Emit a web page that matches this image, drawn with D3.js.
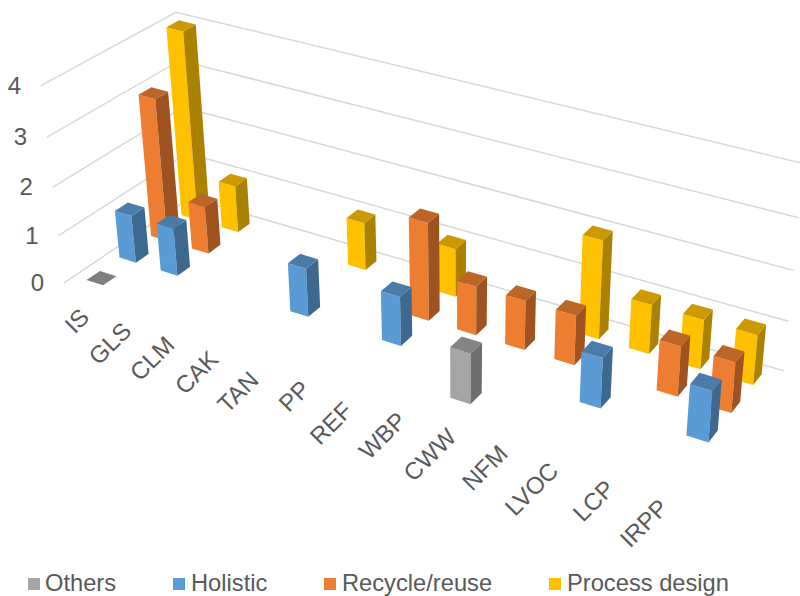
<!DOCTYPE html>
<html><head><meta charset="utf-8"><script src="https://cdn.jsdelivr.net/npm/d3@7"></script>
<style>html,body{margin:0;background:#fff}</style></head><body><svg id="c" width="800" height="596"></svg>
<script>
const categories=["IS","GLS","CLM","CAK","TAN","PP","REF","WBP","CWW","NFM","LVOC","LCP","IRPP"];
const seriesNames=["Others","Holistic","Recycle/reuse","Process design"];
const others=[0,null,null,null,null,null,null,null,1,null,null,null,null];
const holistic=[1,1,null,null,1,null,1,null,null,null,1,null,1];
const recycle=[3,1,null,null,null,null,2,1,1,1,null,1,1];
const process=[4,1,null,null,1,null,1,null,null,2,1,1,1];
const valueTicks=[0,1,2,3,4];

// Perspective camera: maps (category, series depth, value) to screen pixels.
const camera=[40.3047,35.5985,-6.3,64.0215, 10.0721,-17.0795,-50.4934,282.897, -0.0117593,0.0211970,-0.0137152];
const project=(u,s,z)=>{
  const c=camera,w=c[8]*u+c[9]*s+c[10]*z+1;
  return [(c[0]*u+c[1]*s+c[2]*z+c[3])/w,(c[4]*u+c[5]*s+c[6]*z+c[7])/w];
};

const svg=d3.select("#c");
const uScale=d3.scalePoint().domain(categories).range([0,13]).padding(.5);
const sScale=d3.scalePoint().domain(seriesNames).range([0,4]).padding(.5);
const zScale=d3.scaleLinear().domain([0,4]).range([0,4]);
const uMax=uScale.range()[1],sMax=sScale.range()[1];
const font="Liberation Sans",ink="#595959";

// Gridlines running along the side wall and the back wall, with value ticks.
valueTicks.forEach(v=>{
  const z=zScale(v);
  svg.append("path").attr("fill","none").attr("stroke","#d9d9d9").attr("stroke-width",1.5)
    .attr("d",d3.line()([project(0,0,z),project(0,sMax,z),project(uMax,sMax,z)]));
  const q=project(0,0,z);
  svg.append("text").attr("x",q[0]-20).attr("y",q[1]+8).attr("text-anchor","end")
    .attr("font-family",font).attr("font-size",24).attr("fill",ink).text(v);
});

// Front, side and top face colours per series.
const faces=[["#a5a5a5","#6e6e6e","#848484"],["#5b9bd5","#3d688f","#4a7ca9"],["#ed7d31","#9f5321","#bd6427"],["#ffc000","#ab8100","#cc9a00"]];
const values=[others,holistic,recycle,process];
const halfWidth=.2,halfDepth=.2;
const closed=pts=>d3.line()(pts)+"Z";

// Painter's order: back series first, left to right within a series.
[3,2,1,0].forEach(k=>{
  categories.forEach((c,i)=>{
    const v=values[k][i];
    if(v==null) return;
    const u=uScale(c),s=sScale(seriesNames[k]),z=zScale(v);
    const P=(a,b,h)=>project(u+a*halfWidth,s+b*halfDepth,h);
    if(v>0){
      svg.append("path").attr("fill",faces[k][0]).attr("d",closed([P(-1,-1,0),P(1,-1,0),P(1,-1,z),P(-1,-1,z)]));
      svg.append("path").attr("fill",faces[k][1]).attr("d",closed([P(1,-1,0),P(1,1,0),P(1,1,z),P(1,-1,z)]));
    }
    svg.append("path").attr("fill",v>0?faces[k][2]:"#7f7f7f").attr("d",closed([P(-1,-1,z),P(1,-1,z),P(1,1,z),P(-1,1,z)]));
  });
});

// Category labels slanted along the front edge of the floor; a couple sit a little lower.
const labelShift={TAN:[-5,6],REF:[-5,6],LVOC:[-2,0],IRPP:[-2,1]};
categories.forEach(c=>{
  const q=project(uScale(c),0,0),d=labelShift[c]||[0,0];
  svg.append("text").attr("transform",`translate(${q[0]+6+d[0]},${q[1]+29+d[1]}) rotate(-45)`).attr("text-anchor","end")
    .attr("font-family",font).attr("font-size",24).attr("fill",ink).text(c);
});

// Legend along the bottom edge.
const swatchX=[28,173,324,549],labelX=[45,191,342,567];
seriesNames.forEach((n,k)=>{
  svg.append("rect").attr("x",swatchX[k]).attr("y",578).attr("width",12).attr("height",12).attr("fill",faces[k][0]);
  svg.append("text").attr("x",labelX[k]).attr("y",591).attr("font-family",font).attr("font-size",23.7).attr("fill",ink).text(n);
});
</script></body></html>
